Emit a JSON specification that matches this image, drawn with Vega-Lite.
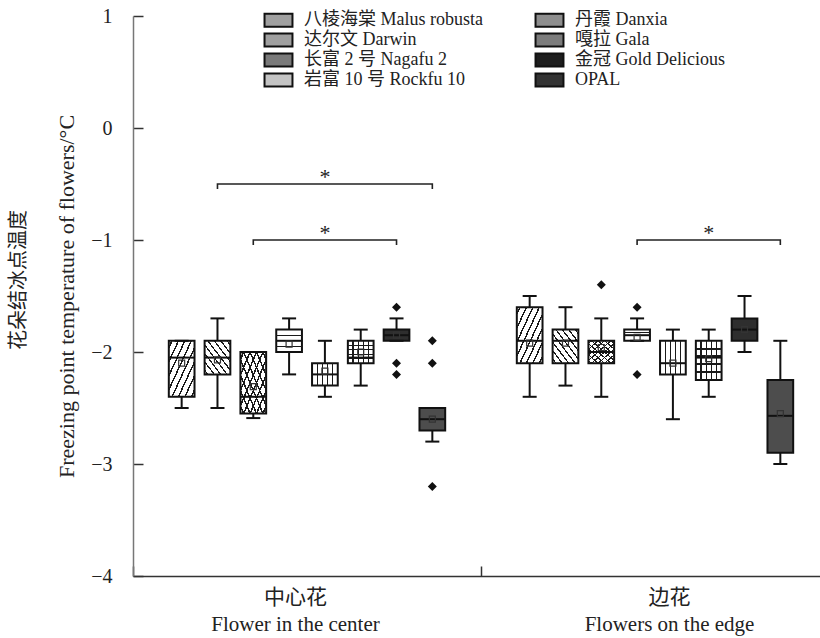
{
  "$schema": "https://vega.github.io/schema/vega-lite/v6.json",
  "width": 687,
  "height": 560,
  "autosize": {"type": "none"},
  "padding": {"left": 133, "top": 16, "right": 0, "bottom": 62},
  "title": {"text": "花朵结冰点温度", "orient": "left", "anchor": "middle", "fontSize": 20, "font": "Liberation Serif, Noto Sans CJK SC", "fontWeight": "normal", "color": "#222", "offset": 27, "dx": 16},
  "datasets": {
    "boxes": [
      {"group": "中心花|Flower in the center", "cultivar": "八棱海棠 Malus robusta", "lower": -2.5, "q1": -2.4, "median": -2.05, "q3": -1.9, "upper": -1.9, "mean": -2.1},
      {"group": "中心花|Flower in the center", "cultivar": "达尔文 Darwin", "lower": -2.5, "q1": -2.2, "median": -2.05, "q3": -1.9, "upper": -1.7, "mean": -2.07},
      {"group": "中心花|Flower in the center", "cultivar": "长富 2 号 Nagafu 2", "lower": -2.59, "q1": -2.55, "median": -2.4, "q3": -2.0, "upper": -2.0, "mean": -2.31},
      {"group": "中心花|Flower in the center", "cultivar": "岩富 10 号 Rockfu 10", "lower": -2.2, "q1": -2.0, "median": -1.9, "q3": -1.8, "upper": -1.7, "mean": -1.93},
      {"group": "中心花|Flower in the center", "cultivar": "丹霞 Danxia", "lower": -2.4, "q1": -2.3, "median": -2.2, "q3": -2.1, "upper": -1.9, "mean": -2.17},
      {"group": "中心花|Flower in the center", "cultivar": "嘎拉 Gala", "lower": -2.3, "q1": -2.1, "median": -2.05, "q3": -1.9, "upper": -1.8, "mean": -2.0},
      {"group": "中心花|Flower in the center", "cultivar": "金冠 Gold Delicious", "lower": -1.9, "q1": -1.9, "median": -1.85, "q3": -1.8, "upper": -1.7, "mean": -1.85},
      {"group": "中心花|Flower in the center", "cultivar": "OPAL", "lower": -2.8, "q1": -2.7, "median": -2.6, "q3": -2.5, "upper": -2.5, "mean": -2.6},
      {"group": "边花|Flowers on the edge", "cultivar": "八棱海棠 Malus robusta", "lower": -2.4, "q1": -2.1, "median": -1.9, "q3": -1.6, "upper": -1.5, "mean": -1.92},
      {"group": "边花|Flowers on the edge", "cultivar": "达尔文 Darwin", "lower": -2.3, "q1": -2.1, "median": -1.9, "q3": -1.8, "upper": -1.6, "mean": -1.92},
      {"group": "边花|Flowers on the edge", "cultivar": "长富 2 号 Nagafu 2", "lower": -2.4, "q1": -2.1, "median": -2.0, "q3": -1.9, "upper": -1.7, "mean": -1.96},
      {"group": "边花|Flowers on the edge", "cultivar": "岩富 10 号 Rockfu 10", "lower": -1.9, "q1": -1.9, "median": -1.85, "q3": -1.8, "upper": -1.7, "mean": -1.87},
      {"group": "边花|Flowers on the edge", "cultivar": "丹霞 Danxia", "lower": -2.6, "q1": -2.2, "median": -2.1, "q3": -1.9, "upper": -1.8, "mean": -2.1},
      {"group": "边花|Flowers on the edge", "cultivar": "嘎拉 Gala", "lower": -2.4, "q1": -2.25, "median": -2.05, "q3": -1.9, "upper": -1.8, "mean": -2.06},
      {"group": "边花|Flowers on the edge", "cultivar": "金冠 Gold Delicious", "lower": -2.0, "q1": -1.9, "median": -1.8, "q3": -1.7, "upper": -1.5, "mean": -1.8},
      {"group": "边花|Flowers on the edge", "cultivar": "OPAL", "lower": -3.0, "q1": -2.9, "median": -2.57, "q3": -2.25, "upper": -1.9, "mean": -2.55}
    ],
    "outliers": [
      {"group": "中心花|Flower in the center", "cultivar": "金冠 Gold Delicious", "value": -1.6},
      {"group": "中心花|Flower in the center", "cultivar": "金冠 Gold Delicious", "value": -2.1},
      {"group": "中心花|Flower in the center", "cultivar": "金冠 Gold Delicious", "value": -2.2},
      {"group": "中心花|Flower in the center", "cultivar": "OPAL", "value": -1.9},
      {"group": "中心花|Flower in the center", "cultivar": "OPAL", "value": -2.1},
      {"group": "中心花|Flower in the center", "cultivar": "OPAL", "value": -3.2},
      {"group": "边花|Flowers on the edge", "cultivar": "长富 2 号 Nagafu 2", "value": -1.4},
      {"group": "边花|Flowers on the edge", "cultivar": "岩富 10 号 Rockfu 10", "value": -1.6},
      {"group": "边花|Flowers on the edge", "cultivar": "岩富 10 号 Rockfu 10", "value": -2.2}
    ],
    "brackets": [
      {"bracket": "c1", "group": "中心花|Flower in the center", "cultivar": "达尔文 Darwin", "y": -0.545, "order": 0},
      {"bracket": "c1", "group": "中心花|Flower in the center", "cultivar": "达尔文 Darwin", "y": -0.5, "order": 1},
      {"bracket": "c1", "group": "中心花|Flower in the center", "cultivar": "OPAL", "y": -0.5, "order": 2},
      {"bracket": "c1", "group": "中心花|Flower in the center", "cultivar": "OPAL", "y": -0.545, "order": 3},
      {"bracket": "c2", "group": "中心花|Flower in the center", "cultivar": "长富 2 号 Nagafu 2", "y": -1.045, "order": 0},
      {"bracket": "c2", "group": "中心花|Flower in the center", "cultivar": "长富 2 号 Nagafu 2", "y": -1.0, "order": 1},
      {"bracket": "c2", "group": "中心花|Flower in the center", "cultivar": "金冠 Gold Delicious", "y": -1.0, "order": 2},
      {"bracket": "c2", "group": "中心花|Flower in the center", "cultivar": "金冠 Gold Delicious", "y": -1.045, "order": 3},
      {"bracket": "e1", "group": "边花|Flowers on the edge", "cultivar": "岩富 10 号 Rockfu 10", "y": -1.045, "order": 0},
      {"bracket": "e1", "group": "边花|Flowers on the edge", "cultivar": "岩富 10 号 Rockfu 10", "y": -1.0, "order": 1},
      {"bracket": "e1", "group": "边花|Flowers on the edge", "cultivar": "OPAL", "y": -1.0, "order": 2},
      {"bracket": "e1", "group": "边花|Flowers on the edge", "cultivar": "OPAL", "y": -1.045, "order": 3}
    ],
    "stars": [
      {"group": "中心花|Flower in the center", "cultivar": "丹霞 Danxia", "y": -0.5, "label": "*"},
      {"group": "中心花|Flower in the center", "cultivar": "丹霞 Danxia", "y": -1.0, "label": "*"},
      {"group": "边花|Flowers on the edge", "cultivar": "嘎拉 Gala", "y": -1.0, "label": "*"}
    ]
  },
  "encoding": {
    "x": {
      "field": "group", "type": "nominal",
      "sort": ["中心花|Flower in the center", "边花|Flowers on the edge"],
      "scale": {"range": [0, 696], "paddingInner": 0, "paddingOuter": 0},
      "title": null,
      "axis": {"labelExpr": "split(datum.label, '|')", "labelAngle": 0, "tickBand": "extent", "tickSize": -10, "labelPadding": 20, "labelFontSize": 21, "labelLineHeight": 27, "domainColor": "#333", "tickColor": "#333", "domainWidth": 1.5, "tickWidth": 1.5,
        "labelOffset": {"condition": {"test": "datum.value == '边花|Flowers on the edge'", "value": 14}, "value": -12}}
    },
    "xOffset": {
      "field": "cultivar", "type": "nominal",
      "scale": {"domain": ["八棱海棠 Malus robusta", "达尔文 Darwin", "长富 2 号 Nagafu 2", "岩富 10 号 Rockfu 10", "丹霞 Danxia", "嘎拉 Gala", "金冠 Gold Delicious", "OPAL"], "paddingInner": 0.282, "paddingOuter": 1.141}
    },
    "y": {"field": "q1", "type": "quantitative", "scale": {"domain": [-4, 1], "nice": false}, "title": "Freezing point temperature of flowers/°C"}
  },
  "layer": [
    {
      "data": {"name": "boxes"},
      "transform": [{"filter": "false"}],
      "mark": {"type": "bar", "stroke": "#111", "strokeWidth": 2, "opacity": 1},
      "encoding": {
        "y2": {"field": "q3"},
        "fill": {
          "field": "cultivar", "type": "nominal",
          "scale": {"domain": ["八棱海棠 Malus robusta", "达尔文 Darwin", "长富 2 号 Nagafu 2", "岩富 10 号 Rockfu 10", "丹霞 Danxia", "嘎拉 Gala", "金冠 Gold Delicious", "OPAL"],
                    "range": ["#a0a0a0", "#a0a0a0", "#7a7a7a", "#c4c4c4", "#8e8e8e", "#7c7c7c", "#1e1e1e", "#333333"]},
          "legend": {"orient": "none", "legendX": 136.5, "legendY": -5, "columns": 2, "title": null, "symbolType": "M-2.15,-1H2.15V1H-2.15Z", "symbolSize": 169, "symbolStrokeColor": "#111", "symbolStrokeWidth": 2, "symbolOpacity": 1, "labelFont": "Liberation Serif, Noto Sans CJK SC", "labelFontSize": 18, "labelColor": "#222", "labelOffset": 16.5, "rowPadding": -7.3, "columnPadding": 48, "padding": 0, "labelLimit": 400}
        }
      }
    },
    {
      "data": {"name": "boxes"},
      "mark": {"type": "rule", "stroke": "#111", "strokeWidth": 2},
      "encoding": {
        "y": {"field": "lower", "type": "quantitative", "scale": {"domain": [-4, 1], "nice": false}, "title": "Freezing point temperature of flowers/°C"},
        "y2": {"field": "upper"}
      }
    },
    {
      "data": {"name": "boxes"},
      "mark": {"type": "bar", "stroke": "#111", "strokeWidth": 2, "opacity": 1},
      "encoding": {
        "y2": {"field": "q3"},
        "fill": {"condition": [{"test": "datum.cultivar == '金冠 Gold Delicious'", "value": "#2e2e2e"}, {"test": "datum.cultivar == 'OPAL'", "value": "#4d4d4d"}], "value": "#ffffff"}
      }
    },
    {
      "data": {"name": "boxes"},
      "transform": [{"filter": "datum.cultivar == '八棱海棠 Malus robusta' || datum.cultivar == '长富 2 号 Nagafu 2'"}],
      "mark": {"type": "bar", "fill": {"gradient": "linear", "x1": 0, "y1": 0, "x2": 1, "y2": 1, "stops": [
        {"offset": 0, "color": "rgba(0,0,0,0)"}, {"offset": 0.0475, "color": "rgba(0,0,0,0)"}, {"offset": 0.0475, "color": "#1a1a1a"}, {"offset": 0.0775, "color": "#1a1a1a"}, {"offset": 0.0775, "color": "rgba(0,0,0,0)"},
        {"offset": 0.1725, "color": "rgba(0,0,0,0)"}, {"offset": 0.1725, "color": "#1a1a1a"}, {"offset": 0.2025, "color": "#1a1a1a"}, {"offset": 0.2025, "color": "rgba(0,0,0,0)"},
        {"offset": 0.2975, "color": "rgba(0,0,0,0)"}, {"offset": 0.2975, "color": "#1a1a1a"}, {"offset": 0.3275, "color": "#1a1a1a"}, {"offset": 0.3275, "color": "rgba(0,0,0,0)"},
        {"offset": 0.4225, "color": "rgba(0,0,0,0)"}, {"offset": 0.4225, "color": "#1a1a1a"}, {"offset": 0.4525, "color": "#1a1a1a"}, {"offset": 0.4525, "color": "rgba(0,0,0,0)"},
        {"offset": 0.5475, "color": "rgba(0,0,0,0)"}, {"offset": 0.5475, "color": "#1a1a1a"}, {"offset": 0.5775, "color": "#1a1a1a"}, {"offset": 0.5775, "color": "rgba(0,0,0,0)"},
        {"offset": 0.6725, "color": "rgba(0,0,0,0)"}, {"offset": 0.6725, "color": "#1a1a1a"}, {"offset": 0.7025, "color": "#1a1a1a"}, {"offset": 0.7025, "color": "rgba(0,0,0,0)"},
        {"offset": 0.7975, "color": "rgba(0,0,0,0)"}, {"offset": 0.7975, "color": "#1a1a1a"}, {"offset": 0.8275, "color": "#1a1a1a"}, {"offset": 0.8275, "color": "rgba(0,0,0,0)"},
        {"offset": 0.9225, "color": "rgba(0,0,0,0)"}, {"offset": 0.9225, "color": "#1a1a1a"}, {"offset": 0.9525, "color": "#1a1a1a"}, {"offset": 0.9525, "color": "rgba(0,0,0,0)"}, {"offset": 1, "color": "rgba(0,0,0,0)"}]}},
      "encoding": {"y2": {"field": "q3"}}
    },
    {
      "data": {"name": "boxes"},
      "transform": [{"filter": "datum.cultivar == '达尔文 Darwin' || datum.cultivar == '长富 2 号 Nagafu 2'"}],
      "mark": {"type": "bar", "fill": {"gradient": "linear", "x1": 0, "y1": 1, "x2": 1, "y2": 0, "stops": [
        {"offset": 0, "color": "rgba(0,0,0,0)"}, {"offset": 0.0475, "color": "rgba(0,0,0,0)"}, {"offset": 0.0475, "color": "#1a1a1a"}, {"offset": 0.0775, "color": "#1a1a1a"}, {"offset": 0.0775, "color": "rgba(0,0,0,0)"},
        {"offset": 0.1725, "color": "rgba(0,0,0,0)"}, {"offset": 0.1725, "color": "#1a1a1a"}, {"offset": 0.2025, "color": "#1a1a1a"}, {"offset": 0.2025, "color": "rgba(0,0,0,0)"},
        {"offset": 0.2975, "color": "rgba(0,0,0,0)"}, {"offset": 0.2975, "color": "#1a1a1a"}, {"offset": 0.3275, "color": "#1a1a1a"}, {"offset": 0.3275, "color": "rgba(0,0,0,0)"},
        {"offset": 0.4225, "color": "rgba(0,0,0,0)"}, {"offset": 0.4225, "color": "#1a1a1a"}, {"offset": 0.4525, "color": "#1a1a1a"}, {"offset": 0.4525, "color": "rgba(0,0,0,0)"},
        {"offset": 0.5475, "color": "rgba(0,0,0,0)"}, {"offset": 0.5475, "color": "#1a1a1a"}, {"offset": 0.5775, "color": "#1a1a1a"}, {"offset": 0.5775, "color": "rgba(0,0,0,0)"},
        {"offset": 0.6725, "color": "rgba(0,0,0,0)"}, {"offset": 0.6725, "color": "#1a1a1a"}, {"offset": 0.7025, "color": "#1a1a1a"}, {"offset": 0.7025, "color": "rgba(0,0,0,0)"},
        {"offset": 0.7975, "color": "rgba(0,0,0,0)"}, {"offset": 0.7975, "color": "#1a1a1a"}, {"offset": 0.8275, "color": "#1a1a1a"}, {"offset": 0.8275, "color": "rgba(0,0,0,0)"},
        {"offset": 0.9225, "color": "rgba(0,0,0,0)"}, {"offset": 0.9225, "color": "#1a1a1a"}, {"offset": 0.9525, "color": "#1a1a1a"}, {"offset": 0.9525, "color": "rgba(0,0,0,0)"}, {"offset": 1, "color": "rgba(0,0,0,0)"}]}},
      "encoding": {"y2": {"field": "q3"}}
    },
    {
      "data": {"name": "boxes"},
      "transform": [{"filter": "datum.cultivar == '岩富 10 号 Rockfu 10'"}],
      "mark": {"type": "bar", "fill": {"gradient": "linear", "x1": 0, "y1": 0, "x2": 0, "y2": 1, "stops": [
        {"offset": 0, "color": "rgba(0,0,0,0)"}, {"offset": 0.22, "color": "rgba(0,0,0,0)"}, {"offset": 0.22, "color": "#1a1a1a"}, {"offset": 0.28, "color": "#1a1a1a"}, {"offset": 0.28, "color": "rgba(0,0,0,0)"},
        {"offset": 0.47, "color": "rgba(0,0,0,0)"}, {"offset": 0.47, "color": "#1a1a1a"}, {"offset": 0.53, "color": "#1a1a1a"}, {"offset": 0.53, "color": "rgba(0,0,0,0)"},
        {"offset": 0.72, "color": "rgba(0,0,0,0)"}, {"offset": 0.72, "color": "#1a1a1a"}, {"offset": 0.78, "color": "#1a1a1a"}, {"offset": 0.78, "color": "rgba(0,0,0,0)"}, {"offset": 1, "color": "rgba(0,0,0,0)"}]}},
      "encoding": {"y2": {"field": "q3"}}
    },
    {
      "data": {"name": "boxes"},
      "transform": [{"filter": "datum.cultivar == '丹霞 Danxia' || datum.cultivar == '嘎拉 Gala'"}],
      "mark": {"type": "bar", "fill": {"gradient": "linear", "x1": 0, "y1": 0, "x2": 1, "y2": 0, "stops": [
        {"offset": 0, "color": "rgba(0,0,0,0)"}, {"offset": 0.175, "color": "rgba(0,0,0,0)"}, {"offset": 0.175, "color": "#1a1a1a"}, {"offset": 0.225, "color": "#1a1a1a"}, {"offset": 0.225, "color": "rgba(0,0,0,0)"},
        {"offset": 0.375, "color": "rgba(0,0,0,0)"}, {"offset": 0.375, "color": "#1a1a1a"}, {"offset": 0.425, "color": "#1a1a1a"}, {"offset": 0.425, "color": "rgba(0,0,0,0)"},
        {"offset": 0.575, "color": "rgba(0,0,0,0)"}, {"offset": 0.575, "color": "#1a1a1a"}, {"offset": 0.625, "color": "#1a1a1a"}, {"offset": 0.625, "color": "rgba(0,0,0,0)"},
        {"offset": 0.775, "color": "rgba(0,0,0,0)"}, {"offset": 0.775, "color": "#1a1a1a"}, {"offset": 0.825, "color": "#1a1a1a"}, {"offset": 0.825, "color": "rgba(0,0,0,0)"}, {"offset": 1, "color": "rgba(0,0,0,0)"}]}},
      "encoding": {"y2": {"field": "q3"}}
    },
    {
      "data": {"name": "boxes"},
      "transform": [{"filter": "datum.cultivar == '嘎拉 Gala'"}],
      "mark": {"type": "bar", "fill": {"gradient": "linear", "x1": 0, "y1": 0, "x2": 0, "y2": 1, "stops": [
        {"offset": 0, "color": "rgba(0,0,0,0)"}, {"offset": 0.175, "color": "rgba(0,0,0,0)"}, {"offset": 0.175, "color": "#1a1a1a"}, {"offset": 0.225, "color": "#1a1a1a"}, {"offset": 0.225, "color": "rgba(0,0,0,0)"},
        {"offset": 0.375, "color": "rgba(0,0,0,0)"}, {"offset": 0.375, "color": "#1a1a1a"}, {"offset": 0.425, "color": "#1a1a1a"}, {"offset": 0.425, "color": "rgba(0,0,0,0)"},
        {"offset": 0.575, "color": "rgba(0,0,0,0)"}, {"offset": 0.575, "color": "#1a1a1a"}, {"offset": 0.625, "color": "#1a1a1a"}, {"offset": 0.625, "color": "rgba(0,0,0,0)"},
        {"offset": 0.775, "color": "rgba(0,0,0,0)"}, {"offset": 0.775, "color": "#1a1a1a"}, {"offset": 0.825, "color": "#1a1a1a"}, {"offset": 0.825, "color": "rgba(0,0,0,0)"}, {"offset": 1, "color": "rgba(0,0,0,0)"}]}},
      "encoding": {"y2": {"field": "q3"}}
    },
    {
      "data": {"name": "boxes"},
      "mark": {"type": "tick", "color": "#111", "thickness": 2, "size": 25, "opacity": 1},
      "encoding": {
        "y": {"field": "median", "type": "quantitative", "scale": {"domain": [-4, 1], "nice": false}, "title": "Freezing point temperature of flowers/°C"}
      }
    },
    {
      "data": {"name": "boxes"},
      "mark": {"type": "tick", "color": "#111", "thickness": 2, "size": 14, "opacity": 1},
      "encoding": {
        "y": {"field": "upper", "type": "quantitative", "scale": {"domain": [-4, 1], "nice": false}, "title": "Freezing point temperature of flowers/°C"}
      }
    },
    {
      "data": {"name": "boxes"},
      "mark": {"type": "tick", "color": "#111", "thickness": 2, "size": 14, "opacity": 1},
      "encoding": {
        "y": {"field": "lower", "type": "quantitative", "scale": {"domain": [-4, 1], "nice": false}, "title": "Freezing point temperature of flowers/°C"}
      }
    },
    {
      "data": {"name": "boxes"},
      "mark": {"type": "point", "shape": "square", "size": 36, "filled": false, "stroke": "#333", "strokeWidth": 1.2, "opacity": 1},
      "encoding": {
        "y": {"field": "mean", "type": "quantitative", "scale": {"domain": [-4, 1], "nice": false}, "title": "Freezing point temperature of flowers/°C"}
      }
    },
    {
      "data": {"name": "outliers"},
      "mark": {"type": "point", "shape": "diamond", "size": 81, "filled": true, "color": "#111", "opacity": 1},
      "encoding": {
        "y": {"field": "value", "type": "quantitative", "scale": {"domain": [-4, 1], "nice": false}, "title": "Freezing point temperature of flowers/°C"}
      }
    },
    {
      "data": {"name": "brackets"},
      "mark": {"type": "line", "color": "#222", "strokeWidth": 1.6},
      "encoding": {
        "y": {"field": "y", "type": "quantitative", "scale": {"domain": [-4, 1], "nice": false}, "title": "Freezing point temperature of flowers/°C"},
        "detail": {"field": "bracket"},
        "order": {"field": "order", "type": "quantitative"}
      }
    },
    {
      "data": {"name": "stars"},
      "mark": {"type": "text", "fontSize": 22, "font": "Liberation Serif", "baseline": "alphabetic", "color": "#222"},
      "encoding": {
        "y": {"field": "y", "type": "quantitative", "scale": {"domain": [-4, 1], "nice": false}, "title": "Freezing point temperature of flowers/°C"},
        "text": {"field": "label"}
      }
    }
  ],
  "config": {
    "view": {"stroke": null},
    "axis": {"labelFont": "Liberation Serif, Noto Sans CJK SC", "titleFont": "Liberation Serif, Noto Sans CJK SC", "labelColor": "#222", "titleColor": "#222", "grid": false, "titleFontWeight": "normal"},
    "axisY": {"tickCount": 5, "tickSize": -10, "labelPadding": 31, "labelFontSize": 20, "titleFontSize": 22, "titlePadding": 12, "domainColor": "#777", "tickColor": "#333", "domainWidth": 1.5, "tickWidth": 1.5}
  }
}
